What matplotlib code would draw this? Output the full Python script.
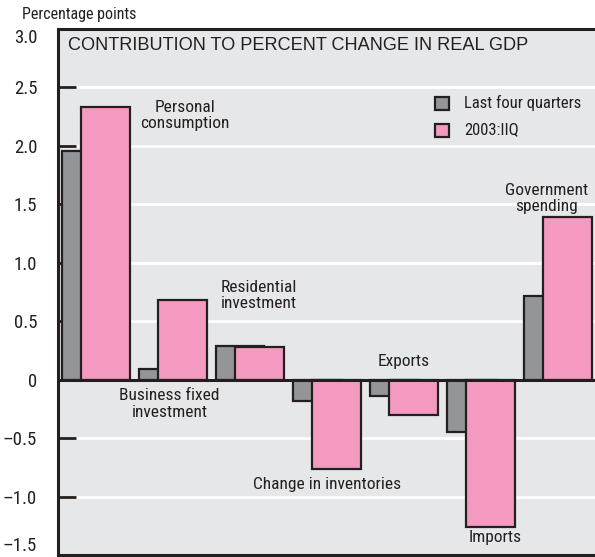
import numpy as np
import matplotlib
matplotlib.use("Agg")
import matplotlib.pyplot as plt
from matplotlib import font_manager

categories = ["Personal\nconsumption", "Business fixed\ninvestment", "Residential\ninvestment",
              "Change in inventories", "Exports", "Imports", "Government\nspending"]
last_four = [1.96, 0.09, 0.29, -0.18, -0.14, -0.45, 0.72]
q2_2003 = [2.33, 0.68, 0.28, -0.76, -0.30, -1.26, 1.39]
yticks = [-1.5, -1.0, -0.5, 0, 0.5, 1.0, 1.5, 2.0, 2.5, 3.0]
ytick_labels = ["\u20131.5", "\u20131.0", "\u20130.5", "0", "0.5", "1.0", "1.5", "2.0", "2.5", "3.0"]

names = {f.name for f in font_manager.fontManager.ttflist}
NARROW = "DejaVu Sans"
for cand in ["Roboto Condensed", "Liberation Sans Narrow", "Archivo Narrow", "Barlow Semi Condensed"]:
    if cand in names:
        NARROW = cand
        break
WT = "normal"

BG = "#e6e7e8"
GRAY = "#939598"
PINK = "#f49ac1"
EDGE = "#231f20"

fig = plt.figure(figsize=(5.95, 5.57), dpi=100)
ax = fig.add_axes([58 / 595, 2 / 557, 1 - 58 / 595, (555 - 29) / 557])
ax.set_facecolor(BG)

x = np.arange(len(categories))
w = 0.63
ax.bar(x, last_four, width=w, align="edge", color=GRAY, edgecolor=EDGE, linewidth=1.6, zorder=3)
ax.bar(x + 0.25, q2_2003, width=w, align="edge", color=PINK, edgecolor=EDGE, linewidth=1.6, zorder=4)

ax.set_xlim(-0.05, 6.92)
ax.set_ylim(-1.5, 3.0)
ax.set_yticks(yticks)
ax.set_yticklabels(ytick_labels, family=NARROW, fontsize=13.5, weight=WT, color=EDGE)
ax.set_xticks([])
ax.tick_params(axis="y", direction="in", length=13, width=2, color=EDGE, pad=15)
tl = ax.get_yticklabels()
tl[0].set_va("bottom")
tl[-1].set_va("top")
for yv in yticks[1:-1]:
    ax.axhline(yv, color="white", linewidth=2, zorder=1)
ax.axhline(0, color=EDGE, linewidth=2.2, zorder=5)

for side in ["left", "top", "bottom"]:
    ax.spines[side].set_linewidth(2.2)
    ax.spines[side].set_color(EDGE)
ax.spines["right"].set_visible(False)

ax.text(0.08, 2.86, "CONTRIBUTION TO PERCENT CHANGE IN REAL GDP", fontsize=13.1, family="Liberation Sans",
        color=EDGE, va="center", ha="left")

lab = dict(family=NARROW, weight=WT, fontsize=12.5, color=EDGE, linespacing=1.15, zorder=6, va="center")
ax.text(1.60, 2.26, categories[0], ha="center", **lab)
ax.text(1.40, -0.205, categories[1], ha="center", **lab)
ax.text(2.06, 0.72, categories[2], ha="left", **lab)
ax.text(3.44, -0.90, categories[3], ha="center", **lab)
ax.text(4.44, 0.155, categories[4], ha="center", **lab)
ax.text(5.62, -1.35, categories[5], ha="center", **lab)
ax.text(6.29, 1.55, categories[6], ha="center", **lab)

# legend
ax.bar([4.84], [0.11], bottom=2.31, width=0.18, align="edge", color=GRAY, edgecolor=EDGE, linewidth=1.6, zorder=6)
ax.bar([4.84], [0.11], bottom=2.08, width=0.18, align="edge", color=PINK, edgecolor=EDGE, linewidth=1.6, zorder=6)
ax.text(5.22, 2.37, "Last four quarters", family=NARROW, weight=WT, fontsize=12, color=EDGE, va="center", ha="left")
ax.text(5.22, 2.14, "2003:IIQ", family=NARROW, weight=WT, fontsize=12, color=EDGE, va="center", ha="left")

fig.text(22 / 595, 1 - 15 / 557, "Percentage points", family=NARROW, weight=WT, fontsize=11.5, color=EDGE,
         va="center", ha="left")

fig.savefig("out.png", dpi=100)
